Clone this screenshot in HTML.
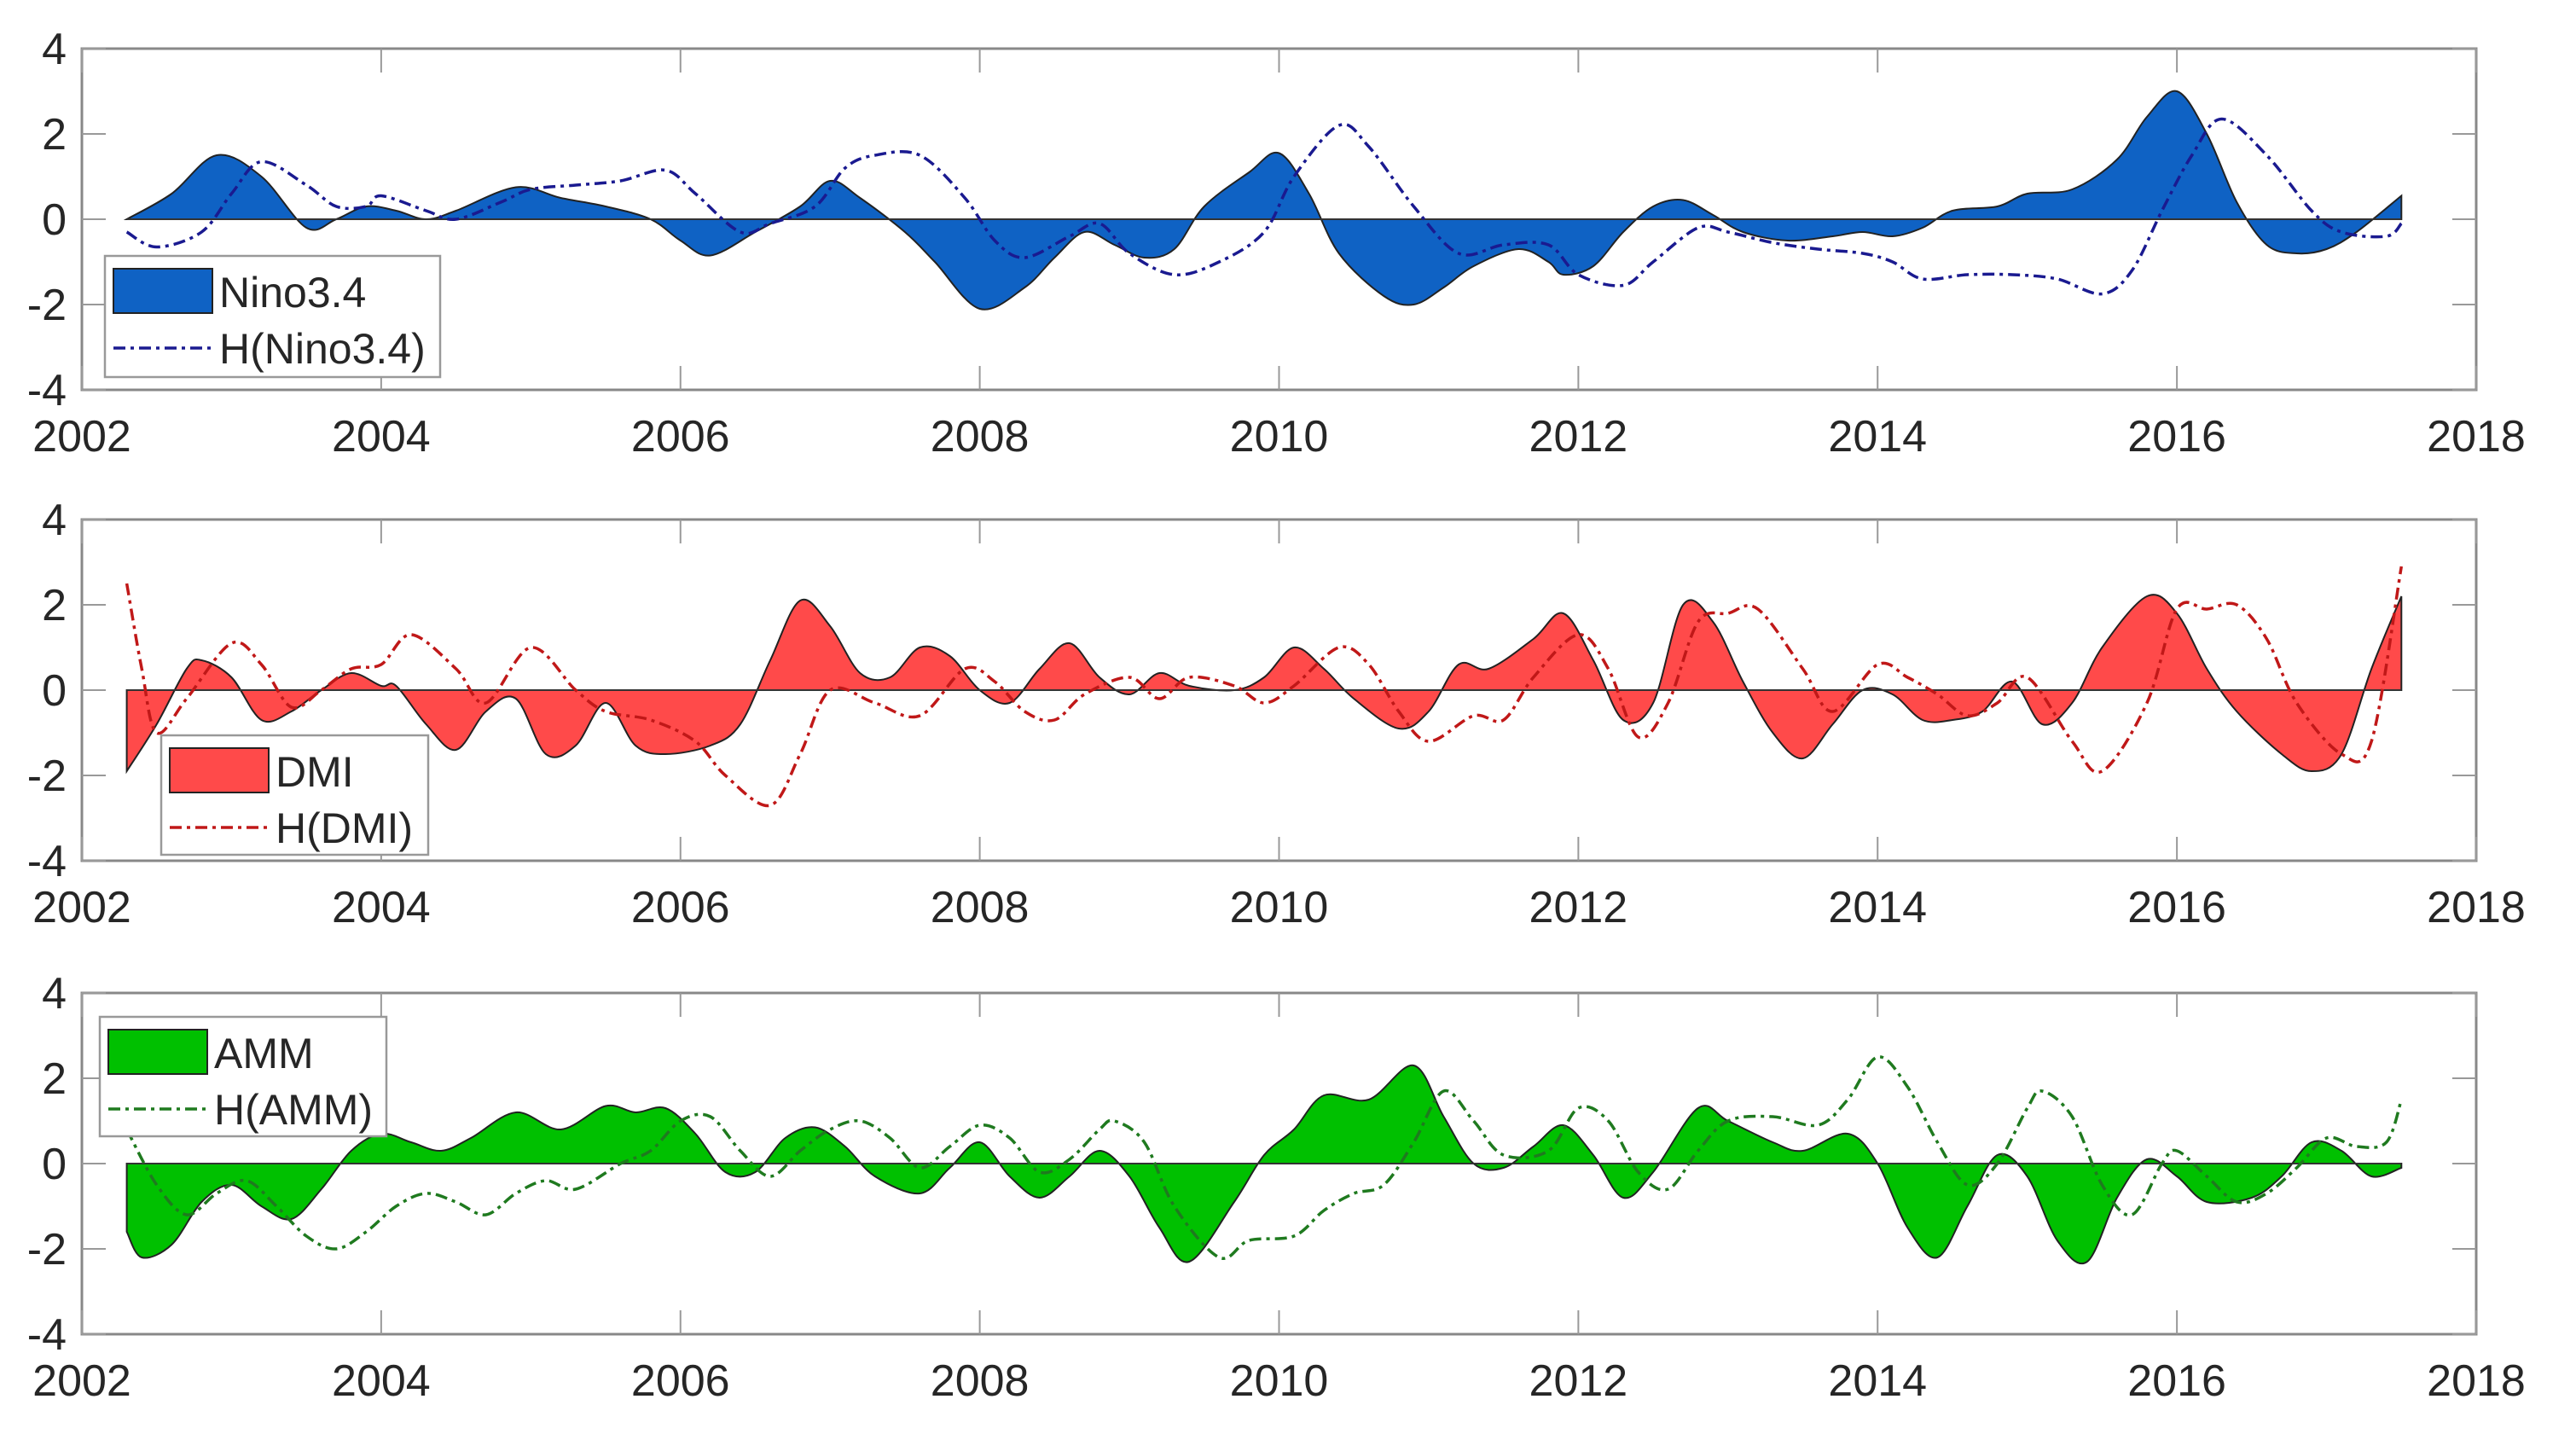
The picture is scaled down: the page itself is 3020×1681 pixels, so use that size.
<!DOCTYPE html>
<html><head><meta charset="utf-8">
<style>
html,body{margin:0;padding:0;background:#fff;}
svg{display:block;font-family:"Liberation Sans",Arial,sans-serif;}
</style></head>
<body>
<svg id="chart" width="3020" height="1681" viewBox="0 0 3020 1681" xmlns="http://www.w3.org/2000/svg"></svg>
<script>
const xTicks=[2002,2004,2006,2008,2010,2012,2014,2016,2018];
const yTicks=[-4,-2,0,2,4];
const ninoYears=[2002.3,2002.6,2002.9,2003.2,2003.5,2003.7,2003.9,2004.1,2004.3,2004.5,2004.9,2005.2,2005.5,2005.8,2006.0,2006.2,2006.5,2006.8,2007.0,2007.2,2007.5,2007.7,2008.0,2008.3,2008.5,2008.7,2008.9,2009.1,2009.3,2009.5,2009.8,2010.0,2010.2,2010.4,2010.7,2010.9,2011.1,2011.3,2011.6,2011.8,2011.9,2012.1,2012.3,2012.5,2012.7,2012.9,2013.1,2013.4,2013.7,2013.9,2014.1,2014.3,2014.5,2014.8,2015.0,2015.3,2015.6,2015.8,2016.0,2016.2,2016.4,2016.6,2016.8,2017.0,2017.2,2017.5];
const ninoValues=[0,0.6,1.5,1.0,-0.2,0,0.3,0.2,0,0.2,0.75,0.5,0.3,0,-0.5,-0.85,-0.3,0.3,0.9,0.5,-0.3,-1.0,-2.1,-1.6,-0.9,-0.3,-0.6,-0.9,-0.7,0.3,1.1,1.55,0.6,-0.8,-1.8,-2.0,-1.6,-1.1,-0.7,-1.0,-1.3,-1.1,-0.3,0.3,0.45,0.1,-0.3,-0.5,-0.4,-0.3,-0.4,-0.2,0.2,0.3,0.6,0.7,1.4,2.4,3.0,2.0,0.4,-0.6,-0.8,-0.7,-0.3,0.55];
const hNinoYears=[2002.3,2002.5,2002.8,2003.0,2003.2,2003.5,2003.7,2003.9,2004.0,2004.3,2004.5,2004.8,2005.0,2005.3,2005.6,2005.9,2006.1,2006.4,2006.6,2006.9,2007.1,2007.3,2007.6,2007.9,2008.1,2008.3,2008.6,2008.8,2009.0,2009.3,2009.6,2009.9,2010.1,2010.4,2010.6,2010.9,2011.2,2011.5,2011.8,2012.0,2012.3,2012.5,2012.8,2013.0,2013.3,2013.6,2013.9,2014.1,2014.3,2014.6,2014.9,2015.2,2015.5,2015.7,2015.9,2016.1,2016.3,2016.6,2016.9,2017.1,2017.4,2017.5];
const hNinoValues=[-0.3,-0.65,-0.3,0.6,1.35,0.8,0.3,0.3,0.55,0.2,0.0,0.4,0.7,0.8,0.9,1.15,0.6,-0.3,-0.1,0.3,1.2,1.5,1.5,0.5,-0.5,-0.9,-0.4,-0.1,-0.8,-1.3,-1.0,-0.3,1.0,2.2,1.7,0.3,-0.8,-0.6,-0.6,-1.3,-1.55,-1.0,-0.2,-0.3,-0.55,-0.7,-0.8,-1.0,-1.4,-1.3,-1.3,-1.4,-1.75,-1.2,0.2,1.5,2.35,1.5,0.2,-0.3,-0.4,-0.1];
const dmiYears=[2002.3,2002.5,2002.7,2002.8,2003.0,2003.2,2003.4,2003.6,2003.8,2004.0,2004.1,2004.3,2004.5,2004.7,2004.9,2005.1,2005.3,2005.5,2005.7,2005.9,2006.2,2006.4,2006.6,2006.8,2007.0,2007.2,2007.4,2007.6,2007.8,2008.0,2008.2,2008.4,2008.6,2008.8,2009.0,2009.2,2009.4,2009.7,2009.9,2010.1,2010.3,2010.5,2010.8,2011.0,2011.2,2011.4,2011.7,2011.9,2012.1,2012.3,2012.5,2012.7,2012.9,2013.1,2013.3,2013.5,2013.7,2013.9,2014.1,2014.3,2014.5,2014.7,2014.9,2015.1,2015.3,2015.5,2015.8,2016.0,2016.2,2016.4,2016.7,2016.9,2017.1,2017.3,2017.5];
const dmiValues=[-1.9,-0.8,0.5,0.7,0.3,-0.7,-0.5,0.0,0.4,0.1,0.1,-0.8,-1.4,-0.5,-0.2,-1.5,-1.3,-0.3,-1.3,-1.5,-1.3,-0.8,0.7,2.1,1.5,0.4,0.3,1.0,0.8,0,-0.3,0.5,1.1,0.3,-0.1,0.4,0.1,0,0.3,1.0,0.5,-0.2,-0.9,-0.5,0.6,0.5,1.2,1.8,0.7,-0.7,-0.3,2.0,1.6,0.2,-1.0,-1.6,-0.8,0,-0.1,-0.7,-0.7,-0.5,0.2,-0.8,-0.3,1.0,2.2,1.8,0.5,-0.5,-1.5,-1.9,-1.5,0.5,2.2];
const hDmiYears=[2002.3,2002.4,2002.5,2002.7,2003.0,2003.2,2003.4,2003.6,2003.8,2004.0,2004.2,2004.5,2004.7,2005.0,2005.3,2005.5,2005.8,2006.1,2006.3,2006.6,2006.8,2007.0,2007.3,2007.6,2007.9,2008.1,2008.3,2008.5,2008.7,2009.0,2009.2,2009.4,2009.7,2009.9,2010.1,2010.4,2010.6,2010.8,2011.0,2011.3,2011.5,2011.7,2012.0,2012.2,2012.4,2012.6,2012.8,2013.0,2013.2,2013.5,2013.7,2014.0,2014.2,2014.4,2014.6,2014.8,2015.0,2015.3,2015.5,2015.8,2016.0,2016.2,2016.4,2016.6,2016.8,2017.1,2017.3,2017.5];
const hDmiValues=[2.5,0.5,-1.0,-0.2,1.1,0.6,-0.4,0,0.5,0.6,1.3,0.5,-0.3,1.0,0,-0.5,-0.7,-1.2,-2.0,-2.7,-1.5,0,-0.3,-0.6,0.5,0.2,-0.5,-0.7,-0.1,0.3,-0.2,0.3,0.1,-0.3,0.1,1.0,0.6,-0.5,-1.2,-0.6,-0.7,0.3,1.3,0.5,-1.1,-0.3,1.6,1.8,1.9,0.5,-0.5,0.6,0.3,-0.1,-0.6,-0.3,0.3,-1.2,-1.9,-0.3,1.9,1.9,2.0,1.2,-0.3,-1.5,-1.2,2.9];
const ammYears=[2002.3,2002.4,2002.6,2002.8,2003.0,2003.2,2003.4,2003.6,2003.8,2004.0,2004.2,2004.4,2004.6,2004.9,2005.2,2005.5,2005.7,2005.9,2006.1,2006.3,2006.5,2006.7,2006.9,2007.1,2007.3,2007.6,2007.8,2008.0,2008.2,2008.4,2008.6,2008.8,2009.0,2009.2,2009.4,2009.7,2009.9,2010.1,2010.3,2010.6,2010.9,2011.1,2011.3,2011.5,2011.7,2011.9,2012.1,2012.3,2012.5,2012.8,2013.0,2013.3,2013.5,2013.8,2014.0,2014.2,2014.4,2014.6,2014.8,2015.0,2015.2,2015.4,2015.6,2015.8,2016.0,2016.2,2016.5,2016.7,2016.9,2017.1,2017.3,2017.5];
const ammValues=[-1.6,-2.2,-1.9,-0.9,-0.5,-1.0,-1.3,-0.6,0.3,0.7,0.5,0.3,0.6,1.2,0.8,1.35,1.2,1.3,0.7,-0.2,-0.2,0.6,0.85,0.4,-0.3,-0.7,-0.1,0.5,-0.3,-0.8,-0.3,0.3,-0.3,-1.5,-2.3,-0.9,0.2,0.8,1.6,1.5,2.3,1.1,0,-0.1,0.4,0.9,0.2,-0.8,-0.2,1.3,1.0,0.5,0.3,0.7,0,-1.5,-2.2,-1.0,0.2,-0.3,-1.8,-2.3,-0.8,0.1,-0.3,-0.9,-0.8,-0.3,0.5,0.3,-0.3,-0.1];
const hAmmYears=[2002.3,2002.5,2002.7,2002.9,2003.1,2003.3,2003.5,2003.7,2003.9,2004.1,2004.3,2004.5,2004.7,2004.9,2005.1,2005.3,2005.6,2005.8,2006.0,2006.2,2006.4,2006.6,2006.8,2007.0,2007.2,2007.4,2007.6,2007.8,2008.0,2008.2,2008.4,2008.6,2008.8,2008.9,2009.1,2009.3,2009.6,2009.8,2010.1,2010.3,2010.5,2010.7,2010.9,2011.1,2011.3,2011.5,2011.8,2012.0,2012.2,2012.4,2012.6,2012.8,2013.0,2013.3,2013.6,2013.8,2014.0,2014.2,2014.4,2014.6,2014.8,2015.0,2015.1,2015.3,2015.5,2015.7,2015.9,2016.0,2016.2,2016.4,2016.6,2016.8,2017.0,2017.2,2017.4,2017.5];
const hAmmValues=[0.8,-0.5,-1.2,-0.7,-0.4,-1.0,-1.7,-2.0,-1.6,-1.0,-0.7,-0.9,-1.2,-0.7,-0.4,-0.6,0,0.3,1.0,1.1,0.3,-0.3,0.3,0.8,1.0,0.6,-0.1,0.4,0.9,0.6,-0.2,0.1,0.8,1.0,0.5,-1.0,-2.2,-1.8,-1.7,-1.1,-0.7,-0.5,0.5,1.7,1.0,0.2,0.3,1.3,1.0,-0.2,-0.6,0.3,1.0,1.1,0.9,1.5,2.5,1.8,0.5,-0.5,0,1.3,1.7,1.1,-0.5,-1.2,0,0.3,-0.3,-0.9,-0.7,-0.1,0.6,0.4,0.5,1.5];

const NS='http://www.w3.org/2000/svg';
const svg=document.getElementById('chart');
const X0=96,X1=2903;
function xScale(yr){return X0+(yr-2002)/(2018-2002)*(X1-X0);}
function mk(tag,attrs,parent){const e=document.createElementNS(NS,tag);for(const k in attrs)e.setAttribute(k,attrs[k]);(parent||svg).appendChild(e);return e;}
function smooth(pts){
  let d='M'+pts[0][0].toFixed(1)+','+pts[0][1].toFixed(1);
  for(let i=0;i<pts.length-1;i++){
    const p0=pts[Math.max(0,i-1)],p1=pts[i],p2=pts[i+1],p3=pts[Math.min(pts.length-1,i+2)];
    const c1x=p1[0]+(p2[0]-p0[0])/6,c1y=p1[1]+(p2[1]-p0[1])/6;
    const c2x=p2[0]-(p3[0]-p1[0])/6,c2y=p2[1]-(p3[1]-p1[1])/6;
    d+=' C'+c1x.toFixed(1)+','+c1y.toFixed(1)+' '+c2x.toFixed(1)+','+c2y.toFixed(1)+' '+p2[0].toFixed(1)+','+p2[1].toFixed(1);
  }
  return d;
}
const panels=[
 {key:'nino',top:57,fillYears:ninoYears,fillVals:ninoValues,lineYears:hNinoYears,lineVals:hNinoValues,fill:'#0f62c4',line:'#1a1a90',label:'Nino3.4',hlabel:'H(Nino3.4)',leg:[123,300,393,142]},
 {key:'dmi',top:609,fillYears:dmiYears,fillVals:dmiValues,lineYears:hDmiYears,lineVals:hDmiValues,fill:'#ff4a4a',line:'#c01818',label:'DMI',hlabel:'H(DMI)',leg:[189,862,313,140]},
 {key:'amm',top:1164,fillYears:ammYears,fillVals:ammValues,lineYears:hAmmYears,lineVals:hAmmValues,fill:'#00c000',line:'#1f7a1f',label:'AMM',hlabel:'H(AMM)',leg:[117,1192,336,140]}
];
const H=400;
panels.forEach(p=>{
  const g=mk('g',{});
  
  
  const yScale=v=>p.top+H/2-v*(H/8);
  mk('rect',{x:X0,y:p.top,width:X1-X0,height:H,fill:'#fff',stroke:'none'},g);
  const pts=p.fillYears.map((y,i)=>[xScale(y),yScale(p.fillVals[i])]);
  const z=yScale(0);
  const d=smooth(pts)+' L'+pts[pts.length-1][0].toFixed(1)+','+z+' L'+pts[0][0].toFixed(1)+','+z+' Z';
  const area=mk('path',{d:d,fill:p.fill,stroke:'#222','stroke-width':2},g);
  
  
  const zl=mk('line',{x1:pts[0][0],x2:pts[pts.length-1][0],y1:z,y2:z,stroke:'#333','stroke-width':2},g);
  
  
  const lp=p.lineYears.map((y,i)=>[xScale(y),yScale(p.lineVals[i])]);
  const ln=mk('path',{d:smooth(lp),fill:'none',stroke:p.line,'stroke-width':3.5,'stroke-dasharray':'14,6,4,6'},g);
  
  
  mk('rect',{x:X0,y:p.top,width:X1-X0,height:H,fill:'none',stroke:'#888','stroke-width':3},g);
  xTicks.forEach(t=>{
    const x=xScale(t);
    mk('line',{x1:x,x2:x,y1:p.top+H,y2:p.top+H-28,stroke:'#999','stroke-width':2},g);
    mk('line',{x1:x,x2:x,y1:p.top,y2:p.top+28,stroke:'#999','stroke-width':2},g);
    const tx=mk('text',{x:x,y:p.top+H+72,'font-size':52,fill:'#262626','text-anchor':'middle'},g);
    tx.textContent=t;
    
    
  });
  yTicks.forEach(t=>{
    const y=yScale(t);
    mk('line',{x1:X0,x2:X0+28,y1:y,y2:y,stroke:'#999','stroke-width':2},g);
    mk('line',{x1:X1,x2:X1-28,y1:y,y2:y,stroke:'#999','stroke-width':2},g);
    const ty=mk('text',{x:X0-18,y:y+18,'font-size':52,fill:'#262626','text-anchor':'end'},g);
    ty.textContent=(t<0?'-':'')+Math.abs(t);
    
    
  });
  const [lx,ly,lw,lh]=p.leg;
  const lg=mk('g',{},g);
  
  
  mk('rect',{x:lx,y:ly,width:lw,height:lh,fill:'#fff',stroke:'#999','stroke-width':2.5},lg);
  mk('rect',{x:lx+10,y:ly+15,width:116,height:52,fill:p.fill,stroke:'#222','stroke-width':2},lg);
  const t1=mk('text',{x:lx+134,y:ly+60,'font-size':50,fill:'#262626'},lg);
  t1.textContent=p.label;
  
  
  mk('line',{x1:lx+10,x2:lx+126,y1:ly+108,y2:ly+108,stroke:p.line,'stroke-width':3.5,'stroke-dasharray':'14,6,4,6'},lg);
  const t2=mk('text',{x:lx+134,y:ly+126,'font-size':50,fill:'#262626'},lg);
  t2.textContent=p.hlabel;
  
  
});
</script>
</body></html>
